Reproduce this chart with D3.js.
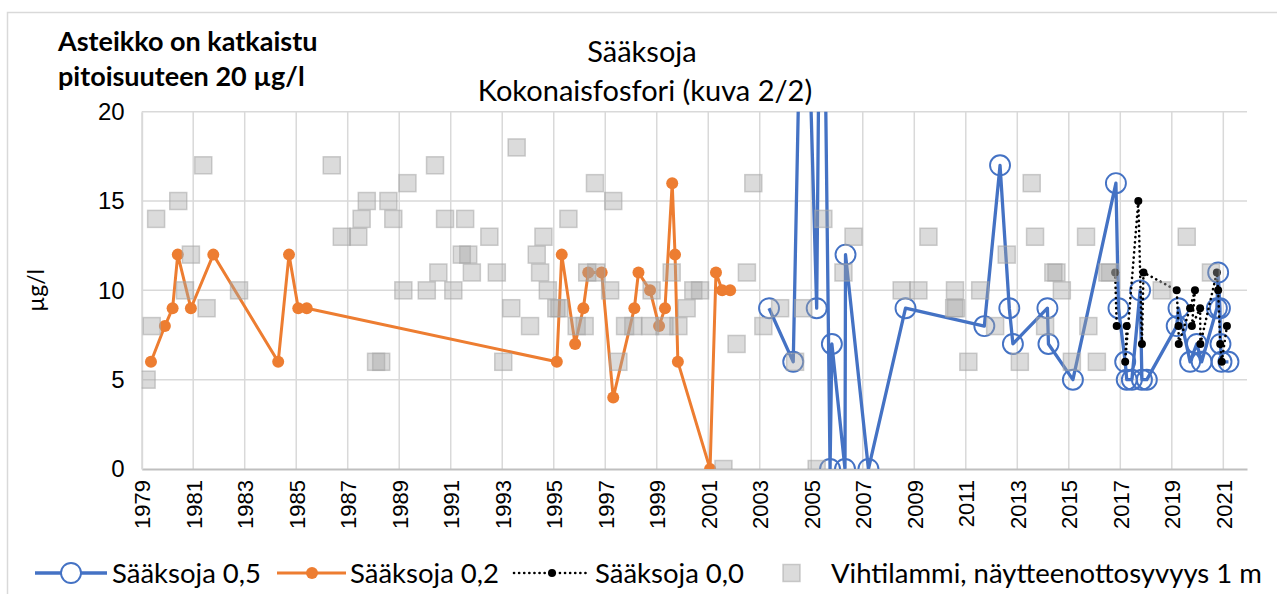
<!DOCTYPE html>
<html>
<head>
<meta charset="utf-8">
<script src="https://cdn.jsdelivr.net/npm/d3@7"></script>
<style>
  body { margin: 0; background: #fff; }
  svg { font-family: Lato, "Liberation Sans", sans-serif; }
</style>
</head>
<body>
<div id="chart"></div>
<script>
/* DATA */
const xTickYears = [1979, 1981, 1983, 1985, 1987, 1989, 1991, 1993, 1995, 1997, 1999,
                    2001, 2003, 2005, 2007, 2009, 2011, 2013, 2015, 2017, 2019, 2021];
const yTickValues = [0, 5, 10, 15, 20];

// Sääksoja 0,5 (two points are above the cut 20 ug/l scale)
const s05Year = [2003.36, 2004.3, 2004.7, 2005.21, 2005.4, 2005.73, 2005.8, 2006.31, 2006.33, 2007.22,
                 2008.66, 2011.72, 2012.33, 2012.69, 2012.83, 2014.17, 2014.21, 2015.16, 2016.83, 2016.93,
                 2017.19, 2017.25, 2017.45, 2017.77, 2017.84, 2018.03, 2019.19, 2019.26, 2019.71, 2019.97,
                 2020.16, 2020.75, 2020.8, 2020.87, 2020.89, 2020.93, 2021.2];
const s05Val  = [9, 6, 35, 9, 40, 0, 7, 0, 12, 0,
                 9, 8, 17, 9, 7, 9, 7, 5, 16, 9,
                 6, 5, 5, 10, 5, 5, 8, 9, 6, 7,
                 6, 9, 11, 9, 7, 6, 6];

// Sääksoja 0,2
const s02Year = [1979.36, 1979.9, 1980.2, 1980.4, 1980.91, 1981.78, 1984.3, 1984.72, 1985.08, 1985.41,
                 1995.12, 1995.31, 1995.83, 1996.15, 1996.34, 1996.86, 1997.31, 1998.13, 1998.29, 1998.74,
                 1999.09, 1999.32, 1999.6, 1999.71, 1999.82, 2001.07, 2001.3, 2001.54, 2001.85];
const s02Val  = [6, 8, 9, 12, 9, 12, 6, 12, 9, 9,
                 6, 12, 7, 9, 11, 11, 4, 9, 11, 10,
                 8, 9, 16, 12, 6, 0, 11, 10, 10];

// Sääksoja 0,0
const s00Year = [2016.8, 2016.86, 2017.25, 2017.19, 2017.7, 2017.84, 2017.9, 2019.19, 2019.26, 2019.27,
                 2019.71, 2019.9, 2019.78, 2020.1, 2020.11, 2020.75, 2020.8, 2020.88, 2020.94, 2021.14];
const s00Val  = [11, 8, 8, 6, 15, 7, 11, 10, 8, 7,
                 9, 10, 8, 9, 7, 11, 10, 7, 6, 8];

// Vihtilammi, näytteenottosyvyys 1 m
const vihYear = [1979.19, 1979.39, 1979.56, 1980.42, 1980.68, 1980.91, 1981.39, 1981.52, 1982.78,
                 1986.38, 1986.77, 1987.41, 1987.54, 1987.74, 1988.1, 1988.3, 1988.58, 1988.77, 1989.16,
                 1989.32, 1990.07, 1990.39, 1990.52, 1990.78, 1991.1, 1991.43, 1991.56, 1991.68, 1991.82,
                 1992.5, 1992.79, 1993.04, 1993.35, 1993.56, 1994.08, 1994.34, 1994.47, 1994.6, 1994.77,
                 1995.1, 1995.22, 1995.57, 1995.89, 1996.2, 1996.3, 1996.6, 1996.65, 1997.19, 1997.31,
                 1997.51, 1997.77, 1998.09, 1998.74, 1998.8, 1999.3, 1999.58, 1999.84, 2000.16, 2000.42,
                 2000.68, 2001.59, 2002.1, 2002.5, 2002.75, 2003.14, 2003.79, 2004.37, 2004.69, 2005.21,
                 2005.47, 2006.25, 2006.64, 2008.51, 2009.16, 2009.55, 2010.55, 2010.62, 2010.58, 2011.1,
                 2011.56, 2012.14, 2012.59, 2013.1, 2013.56, 2013.69, 2014.08, 2014.4, 2014.52, 2014.73,
                 2015.12, 2015.67, 2015.76, 2016.09, 2016.5, 2016.6, 2018.61, 2019.58, 2020.52];
const vihVal  = [5, 8, 14, 15, 10, 12, 17, 9, 10,
                 17, 13, 13, 14, 15, 6, 6, 15, 14, 10,
                 16, 10, 17, 11, 14, 10, 12, 14, 12, 11,
                 13, 11, 6, 9, 18, 8, 12, 11, 13, 10,
                 9, 9, 14, 8, 8, 11, 16, 11, 10, 15,
                 6, 8, 8, 8, 10, 8, 11, 8, 9, 10,
                 10, 0, 7, 11, 16, 8, 9, 6, 9, 0,
                 14, 11, 13, 10, 10, 13, 9, 9, 10, 6,
                 10, 8, 12, 6, 16, 13, 8, 11, 11, 10,
                 6, 13, 8, 6, 11, 11, 10, 13, 11];

const colBlue = "#4472C4", colOrange = "#ED7D31", colGrid = "#d9d9d9";

/* HELPERS */
function zipSeries(years, vals) {
    return years.map((yr, i) => ({year: yr, value: vals[i]}));
}

/* MAIN RENDER */
const width = 1277, height = 594;
const svg = d3.select("#chart").append("svg")
    .attr("width", width).attr("height", height);

// chart frame
svg.append("rect")
    .attr("x", 7.5).attr("y", 12.5)
    .attr("width", width).attr("height", height)
    .attr("fill", "none").attr("stroke", "#d9d9d9").attr("stroke-width", 1.5);

var x = d3.scaleLinear().domain([1979, 2021.92]).range([141.7, 1247]);
var y = d3.scaleLinear().domain([0, 20]).range([469, 111.7]);

svg.append("clipPath").attr("id", "plotClip")
  .append("rect")
    .attr("x", x.range()[0]).attr("y", y(20))
    .attr("width", x.range()[1] - x.range()[0]).attr("height", y(0) - y(20));

// gridlines
svg.append("g").selectAll("line")
    .data(yTickValues.filter(d => d > 0))
    .enter().append("line")
    .attr("x1", x.range()[0]).attr("x2", x.range()[1])
    .attr("y1", d => y(d)).attr("y2", d => y(d))
    .attr("stroke", colGrid).attr("stroke-width", 1.5);

svg.append("g").selectAll("line")
    .data(xTickYears.slice(1))
    .enter().append("line")
    .attr("x1", d => x(d)).attr("x2", d => x(d))
    .attr("y1", y(0)).attr("y2", y(20))
    .attr("stroke", colGrid).attr("stroke-width", 1.5);

// axes
var xAxis = svg.append("g")
    .attr("transform", "translate(0," + y(0) + ")")
    .call(d3.axisBottom(x).tickValues(xTickYears).tickFormat(d3.format("d")).tickSize(0));
xAxis.select(".domain").attr("stroke", "#bfbfbf").attr("stroke-width", 2);
xAxis.selectAll("text")
    .attr("transform", "rotate(-90)")
    .attr("x", -11).attr("y", 0).attr("dy", "0.36em")
    .style("text-anchor", "end")
    .attr("font-size", 22).attr("fill", "#000");

var yAxis = svg.append("g")
    .attr("transform", "translate(" + x.range()[0] + ",0)")
    .call(d3.axisLeft(y).tickValues(yTickValues).tickSize(0).tickPadding(17));
yAxis.select(".domain").attr("stroke", "#d9d9d9").attr("stroke-width", 2);
yAxis.selectAll("text").attr("font-size", 24).attr("fill", "#000");

svg.append("text")
    .attr("transform", "translate(44," + ((y(0) + y(20)) / 2) + ") rotate(-90)")
    .attr("text-anchor", "middle")
    .attr("font-size", 23)
    .text("µg/l");

// series
var plot = svg.append("g").attr("clip-path", "url(#plotClip)");
var line = d3.line().x(d => x(d.year)).y(d => y(d.value));

const d05 = zipSeries(s05Year, s05Val);
const d02 = zipSeries(s02Year, s02Val);
const d00 = zipSeries(s00Year, s00Val);
const dVih = zipSeries(vihYear, vihVal);

plot.append("path").datum(d05)
    .attr("d", line).attr("fill", "none")
    .attr("stroke", colBlue).attr("stroke-width", 3.3).attr("stroke-linejoin", "round");
plot.append("g").selectAll("circle").data(d05).enter().append("circle")
    .attr("cx", d => x(d.year)).attr("cy", d => y(d.value)).attr("r", 10)
    .attr("fill", "none").attr("stroke", colBlue).attr("stroke-width", 1.9);

plot.append("path").datum(d02)
    .attr("d", line).attr("fill", "none")
    .attr("stroke", colOrange).attr("stroke-width", 3).attr("stroke-linejoin", "round");
plot.append("g").selectAll("circle").data(d02).enter().append("circle")
    .attr("cx", d => x(d.year)).attr("cy", d => y(d.value)).attr("r", 6)
    .attr("fill", colOrange);

plot.append("path").datum(d00)
    .attr("d", line).attr("fill", "none")
    .attr("stroke", "#000").attr("stroke-width", 2.6)
    .attr("stroke-linecap", "round").attr("stroke-dasharray", "0.1 5");
plot.append("g").selectAll("circle").data(d00).enter().append("circle")
    .attr("cx", d => x(d.year)).attr("cy", d => y(d.value)).attr("r", 4)
    .attr("fill", "#000");

plot.append("g").selectAll("rect").data(dVih).enter().append("rect")
    .attr("x", d => x(d.year) - 8.5).attr("y", d => y(d.value) - 8.5)
    .attr("width", 17).attr("height", 17)
    .attr("fill", "#a6a6a6").attr("fill-opacity", 0.4)
    .attr("stroke", "#a6a6a6").attr("stroke-opacity", 0.55).attr("stroke-width", 1.5);

// titles
svg.append("text").attr("x", 642).attr("y", 62)
    .attr("text-anchor", "middle").attr("font-size", 29).text("Sääksoja");
svg.append("text").attr("x", 645).attr("y", 101)
    .attr("text-anchor", "middle").attr("font-size", 29).text("Kokonaisfosfori (kuva 2/2)");

svg.append("text").attr("x", 58).attr("y", 51)
    .attr("font-size", 27).attr("font-weight", "bold").text("Asteikko on katkaistu");
svg.append("text").attr("x", 58).attr("y", 86)
    .attr("font-size", 27).attr("font-weight", "bold").text("pitoisuuteen 20 µg/l");

// legend
var legend = svg.append("g").attr("font-size", 27.5);
var ly = 573;
legend.append("line").attr("x1", 35).attr("x2", 107).attr("y1", ly).attr("y2", ly)
    .attr("stroke", colBlue).attr("stroke-width", 3.3);
legend.append("circle").attr("cx", 71).attr("cy", ly).attr("r", 10)
    .attr("fill", "#fff").attr("stroke", colBlue).attr("stroke-width", 1.9);
legend.append("text").attr("x", 112).attr("y", ly).attr("dy", "0.35em").text("Sääksoja 0,5");

legend.append("line").attr("x1", 277).attr("x2", 346).attr("y1", ly).attr("y2", ly)
    .attr("stroke", colOrange).attr("stroke-width", 3);
legend.append("circle").attr("cx", 312).attr("cy", ly).attr("r", 6).attr("fill", colOrange);
legend.append("text").attr("x", 350).attr("y", ly).attr("dy", "0.35em").text("Sääksoja 0,2");

legend.append("line").attr("x1", 514).attr("x2", 589).attr("y1", ly).attr("y2", ly)
    .attr("stroke", "#000").attr("stroke-width", 2.6)
    .attr("stroke-linecap", "round").attr("stroke-dasharray", "0.1 5");
legend.append("circle").attr("cx", 552).attr("cy", ly).attr("r", 4).attr("fill", "#000");
legend.append("text").attr("x", 595).attr("y", ly).attr("dy", "0.35em").text("Sääksoja 0,0");

legend.append("rect").attr("x", 783).attr("y", ly - 8.5).attr("width", 17).attr("height", 17)
    .attr("fill", "#a6a6a6").attr("fill-opacity", 0.4)
    .attr("stroke", "#a6a6a6").attr("stroke-opacity", 0.55).attr("stroke-width", 1.5);
legend.append("text").attr("x", 831).attr("y", ly).attr("dy", "0.35em")
    .text("Vihtilammi, näytteenottosyvyys 1 m");
</script>
</body>
</html>
